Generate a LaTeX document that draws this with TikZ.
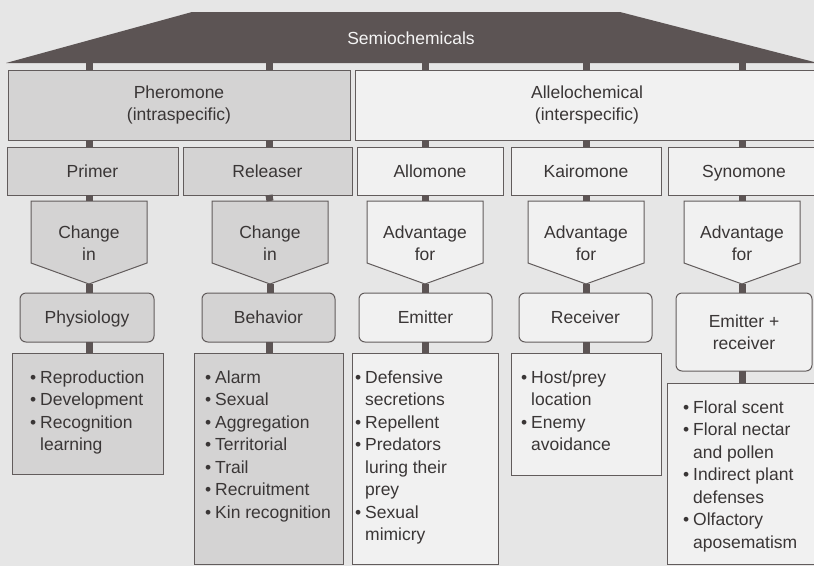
\documentclass[tikz,border=0pt]{standalone}
\usepackage{fontspec}
\setmainfont{Liberation Sans}
\usetikzlibrary{calc}
\definecolor{bgc}{HTML}{E6E6E6}
\definecolor{grayfill}{HTML}{D4D3D3}
\definecolor{lightfill}{HTML}{F1F1F1}
\definecolor{darkfill}{HTML}{5C5454}
\definecolor{edgec}{HTML}{625C5C}
\definecolor{txtc}{HTML}{3A3636}
\newcommand\dfont{\fontsize{17.5}{22}\selectfont}
\newcommand\itm[1]{\makebox[10pt][l]{•}#1}
\newcommand\cnt[1]{\hspace*{10pt}#1}
\tikzset{
  box/.style={draw=edgec, line width=1pt, rectangle, inner sep=0pt, outer sep=0pt,
    anchor=north west, text=txtc, font=\dfont, align=center},
  gbox/.style={box, fill=grayfill},
  wbox/.style={box, fill=lightfill},
  one/.style={text height=14.6pt, text depth=1.8pt},
  rnd/.style={rounded corners=6pt},
  pent/.style={draw=edgec, line width=1pt},
  conn/.style={draw=darkfill, line width=7pt},
  lbl/.style={text=txtc, font=\dfont, align=center, inner sep=0pt},
  lst/.style={text=txtc, font=\fontsize{17.5}{22.5}\selectfont, align=left, inner sep=0pt, anchor=base west},
}
\begin{document}
\begin{tikzpicture}[x=1pt,y=-1pt]
\useasboundingbox (0,0) rectangle (814,566);
\fill[bgc] (0,0) rectangle (814,566);

% column coordinates
\coordinate (c1) at (89,0);
\coordinate (c2) at (269,0);
\coordinate (c3) at (425,0);
\coordinate (c4) at (586,0);
\coordinate (c5) at (742,0);

% top trapezoid
\fill[darkfill] (192,12) -- (620,12) -- (818,63) -- (6,63) -- cycle;
\coordinate (tb) at (0,63);
\node[lbl, one, text=white!92!gray] (semio) at (411,38) {Semiochemicals};

% row 2
\node[gbox, minimum width=342pt, minimum height=70pt] (pher) at (8,70) {Pheromone\\(intraspecific)};
\node[wbox, minimum width=464pt, minimum height=70pt] (alle) at (355,70) {Allelochemical\\(interspecific)};

% row 3
\node[gbox, one, minimum width=171pt, minimum height=48pt] (primer) at (7,147) {Primer};
\node[gbox, one, minimum width=169pt, minimum height=48pt] (releaser) at (183,147) {Releaser};
\node[wbox, one, minimum width=146pt, minimum height=48pt] (allomone) at (357,147) {Allomone};
\node[wbox, one, minimum width=150pt, minimum height=48pt] (kairomone) at (511,147) {Kairomone};
\node[wbox, one, minimum width=152pt, minimum height=48pt] (synomone) at (668,147) {Synomone};

% row 4 pentagons
\foreach \n/\cx/\fc in {1/89/grayfill,2/270/grayfill,3/425/lightfill,4/586/lightfill,5/742/lightfill}{
  \draw[pent, fill=\fc] (\cx-58,201) -- (\cx+58,201) -- (\cx+58,263) -- (\cx,284) -- (\cx-58,263) -- cycle;
  \coordinate (p\n top) at (\cx,201);
  \coordinate (p\n tip) at (\cx,284);
}
\node[lbl] (chg1) at (89,243) {Change\\in};
\node[lbl] (chg2) at (270,243) {Change\\in};
\node[lbl] (adv3) at (425,243) {Advantage\\for};
\node[lbl] (adv4) at (586,243) {Advantage\\for};
\node[lbl] (adv5) at (742,243) {Advantage\\for};

% row 5
\node[gbox, one, rnd, minimum width=134pt, minimum height=49pt] (physio) at (20,293) {Physiology};
\node[gbox, one, rnd, minimum width=133pt, minimum height=49pt] (behav) at (202,293) {Behavior};
\node[wbox, one, rnd, minimum width=133pt, minimum height=49pt] (emitter) at (359,293) {Emitter};
\node[wbox, one, rnd, minimum width=133pt, minimum height=49pt] (receiver) at (519,293) {Receiver};
\node[wbox, rnd, minimum width=136pt, minimum height=78pt] (emrec) at (676,293) {Emitter +\\receiver};

% row 6 list boxes
\node[gbox, minimum width=151pt, minimum height=121pt] (l1) at (12,353) {};
\node[gbox, minimum width=149pt, minimum height=211pt] (l2) at (194,353) {};
\node[wbox, minimum width=146pt, minimum height=211pt] (l3) at (352,353) {};
\node[wbox, minimum width=150pt, minimum height=122pt] (l4) at (511,353) {};
\node[wbox, minimum width=152pt, minimum height=181pt] (l5) at (667,383) {};

% list texts (anchored at the baseline of their last line)
\node[lst] (t1) at (30,450.5) {\itm{Reproduction}\\\itm{Development}\\\itm{Recognition}\\\cnt{learning}};
\node[lst] (t2) at (205,518) {\itm{Alarm}\\\itm{Sexual}\\\itm{Aggregation}\\\itm{Territorial}\\\itm{Trail}\\\itm{Recruitment}\\\itm{Kin recognition}};
\node[lst] (t3) at (355,540.5) {\itm{Defensive}\\\cnt{secretions}\\\itm{Repellent}\\\itm{Predators}\\\cnt{luring their}\\\cnt{prey}\\\itm{Sexual}\\\cnt{mimicry}};
\node[lst] (t4) at (521,450.5) {\itm{Host/prey}\\\cnt{location}\\\itm{Enemy}\\\cnt{avoidance}};
\node[lst] (t5) at (683,548) {\itm{Floral scent}\\\itm{Floral nectar}\\\cnt{and pollen}\\\itm{Indirect plant}\\\cnt{defenses}\\\itm{Olfactory}\\\cnt{aposematism}};

% connectors
\draw[conn] (tb -| c1) -- (pher.north -| c1);
\draw[conn] (tb -| c2) -- (pher.north -| c2);
\draw[conn] (tb -| c3) -- (alle.north -| c3);
\draw[conn] (tb -| c4) -- (alle.north -| c4);
\draw[conn] (tb -| c5) -- (alle.north -| c5);

\draw[conn] (pher.south -| c1) -- (primer.north -| c1);
\draw[conn] (pher.south -| c2) -- (releaser.north -| c2);
\draw[conn] (alle.south -| c3) -- (allomone.north -| c3);
\draw[conn] (alle.south -| c4) -- (kairomone.north -| c4);
\draw[conn] (alle.south -| c5) -- (synomone.north -| c5);

\draw[conn] (primer.south -| c1) -- (p1top);
\draw[conn] (releaser.south -| c2) -- (p2top);
\draw[conn] (allomone.south -| c3) -- (p3top);
\draw[conn] (kairomone.south -| c4) -- (p4top);
\draw[conn] (synomone.south -| c5) -- (p5top);

\draw[conn] (p1tip) -- (physio.north -| p1tip);
\draw[conn] (p2tip) -- (behav.north -| p2tip);
\draw[conn] (p3tip) -- (emitter.north -| p3tip);
\draw[conn] (p4tip) -- (receiver.north -| p4tip);
\draw[conn] (p5tip) -- (emrec.north -| p5tip);

\draw[conn] (physio.south -| c1) -- (l1.north -| c1);
\draw[conn] (behav.south -| c2) -- (l2.north -| c2);
\draw[conn] (emitter.south -| c3) -- (l3.north -| c3);
\draw[conn] (receiver.south -| c4) -- (l4.north -| c4);
\draw[conn] (emrec.south -| c5) -- (l5.north -| c5);
\end{tikzpicture}
\end{document}
